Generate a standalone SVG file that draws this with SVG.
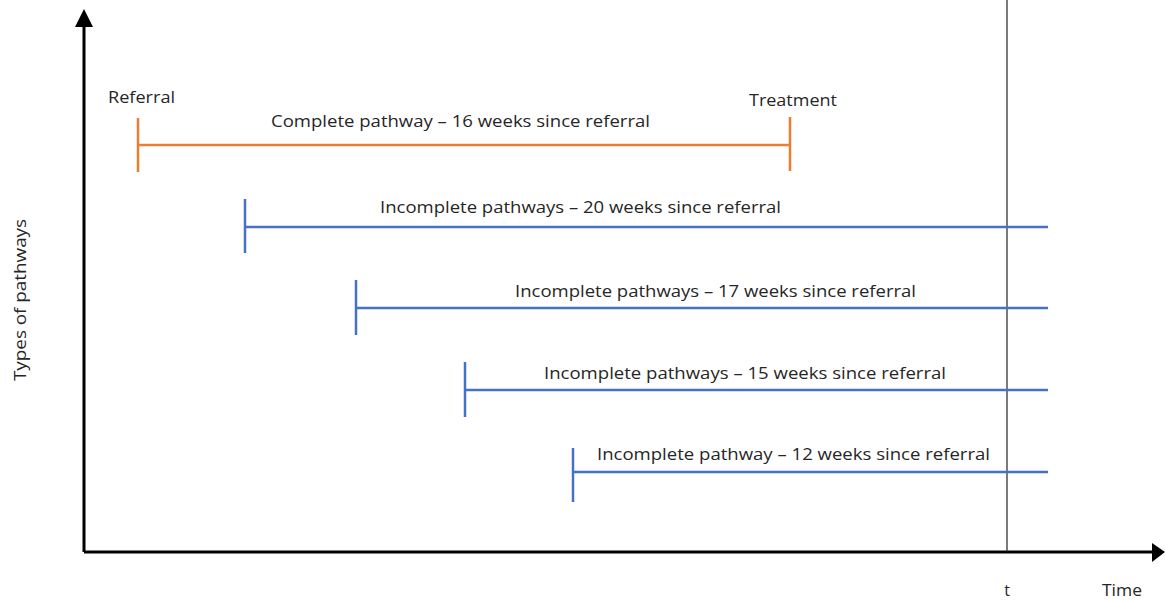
<svg xmlns="http://www.w3.org/2000/svg" width="1165" height="600" viewBox="0 0 1165 600">
<defs>
<style>
text{font-family:"Open Sans","Liberation Sans",sans-serif;font-size:16px;fill:#262626}
.o{stroke:#ED7D31;stroke-width:2.5;fill:none}
.b{stroke:#4472C4;stroke-width:2.5;fill:none}
.ax{stroke:#000;stroke-width:3;fill:none}
</style>
</defs>
<rect width="1165" height="600" fill="#fff"/>
<g id="axes">
<line class="ax" x1="84" y1="552" x2="84" y2="26"/>
<polygon points="84,9 75,27 93,27" fill="#000"/>
<line class="ax" x1="84" y1="552" x2="1153" y2="552"/>
<polygon points="1165,552 1152,543 1152,562" fill="#000"/>
<line x1="1007" y1="0" x2="1007" y2="552" stroke="#222" stroke-width="1.2"/>
<text x="1007" y="596" text-anchor="middle">t</text>
<text x="1122" y="596" text-anchor="middle" textLength="40" lengthAdjust="spacingAndGlyphs">Time</text>
<text transform="translate(26,300) rotate(-90)" text-anchor="middle" textLength="162" lengthAdjust="spacingAndGlyphs">Types of pathways</text>
</g>
<g id="complete">
<line class="o" x1="138" y1="118" x2="138" y2="172"/>
<line class="o" x1="138" y1="145" x2="790" y2="145"/>
<line class="o" x1="790" y1="117" x2="790" y2="171"/>
<text x="108" y="103" textLength="67" lengthAdjust="spacingAndGlyphs">Referral</text>
<text x="749" y="106" textLength="88" lengthAdjust="spacingAndGlyphs">Treatment</text>
<text x="271" y="127" textLength="379" lengthAdjust="spacingAndGlyphs">Complete pathway – 16 weeks since referral</text>
</g>
<g id="inc20">
<line class="b" x1="245" y1="199" x2="245" y2="253"/>
<line class="b" x1="245" y1="227" x2="1048" y2="227"/>
<text x="380" y="213" textLength="401" lengthAdjust="spacingAndGlyphs">Incomplete pathways – 20 weeks since referral</text>
</g>
<g id="inc17">
<line class="b" x1="356" y1="280" x2="356" y2="335"/>
<line class="b" x1="356" y1="308" x2="1048" y2="308"/>
<text x="515" y="297" textLength="401" lengthAdjust="spacingAndGlyphs">Incomplete pathways – 17 weeks since referral</text>
</g>
<g id="inc15">
<line class="b" x1="465" y1="362" x2="465" y2="417"/>
<line class="b" x1="465" y1="390" x2="1048" y2="390"/>
<text x="544" y="379" textLength="402" lengthAdjust="spacingAndGlyphs">Incomplete pathways – 15 weeks since referral</text>
</g>
<g id="inc12">
<line class="b" x1="573" y1="448" x2="573" y2="502"/>
<line class="b" x1="573" y1="472" x2="1048" y2="472"/>
<text x="597" y="460" textLength="393" lengthAdjust="spacingAndGlyphs">Incomplete pathway – 12 weeks since referral</text>
</g>
</svg>
